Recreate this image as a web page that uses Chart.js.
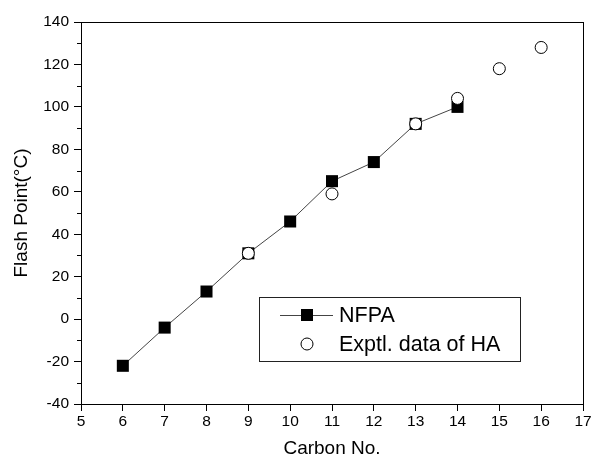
<!DOCTYPE html>
<html>
<head>
<meta charset="utf-8">
<script src="https://cdn.jsdelivr.net/npm/chart.js@4.4.1/dist/chart.umd.min.js"></script>
<style>
  html, body { margin: 0; padding: 0; background: #fff; }
  #wrap { width: 593px; height: 465px; }
</style>
</head>
<body>
<div id="wrap"><canvas id="c" width="593" height="465"></canvas></div>
<script>
// ---- data ----
const nfpaCarbon = [6, 7, 8, 9, 10, 11, 12, 13, 14];
const nfpaFlash  = [-22, -4, 13, 31, 46, 65, 74, 92, 100];
const haCarbon   = [9, 11, 13, 14, 15, 16];
const haFlash    = [31, 59, 92, 104, 118, 128];
const seriesNames = ['NFPA', 'Exptl. data of HA'];
const xTitle = 'Carbon No.';
const yTitle = 'Flash Point(°C)';
const xMin = 5, xMax = 17, xStep = 1;
const yMin = -40, yMax = 140, yStep = 20, yMinorStep = 10;

const FONT = "'Liberation Sans', Arial, sans-serif";

const toPoints = (xs, ys) => xs.map((x, i) => ({ x: x, y: ys[i] }));

// minor ticks + frame + legend box
const decor = {
  id: 'decor',
  afterDraw(chart) {
    const ctx = chart.ctx;
    const a = chart.chartArea;
    const ys = chart.scales.y;
    ctx.save();
    ctx.strokeStyle = '#000';
    ctx.lineWidth = 1;
    // frame
    ctx.strokeRect(Math.round(a.left) + 0.5, Math.round(a.top) + 0.5,
                   Math.round(a.right - a.left), Math.round(a.bottom - a.top));
    // minor y ticks
    for (let v = yMin + yMinorStep; v < yMax; v += yStep) {
      const py = Math.round(ys.getPixelForValue(v)) + 0.5;
      ctx.beginPath();
      ctx.moveTo(a.left, py);
      ctx.lineTo(a.left - 4, py);
      ctx.stroke();
    }
    // legend
    const bx = 259, by = 297, bw = 261, bh = 64;
    ctx.fillStyle = '#fff';
    ctx.fillRect(bx, by, bw, bh);
    ctx.strokeStyle = '#222';
    ctx.strokeRect(bx + 0.5, by + 0.5, bw, bh);
    const ds0 = chart.data.datasets[1]; // NFPA
    const y1 = 315, y2 = 344, mx = 307;
    ctx.strokeStyle = ds0.borderColor;
    ctx.lineWidth = ds0.borderWidth;
    ctx.beginPath();
    ctx.moveTo(280, y1 + 0.5);
    ctx.lineTo(333, y1 + 0.5);
    ctx.stroke();
    ctx.fillStyle = '#000';
    ctx.fillRect(mx - 6, y1 - 6, 12, 12);
    ctx.beginPath();
    ctx.arc(mx, y2, 6, 0, Math.PI * 2);
    ctx.fillStyle = '#fff';
    ctx.fill();
    ctx.strokeStyle = '#000';
    ctx.lineWidth = 1;
    ctx.stroke();
    ctx.fillStyle = '#000';
    ctx.font = '21.5px ' + FONT;
    ctx.textBaseline = 'middle';
    ctx.textAlign = 'left';
    ctx.fillText(seriesNames[0], 339, y1 + 1);
    ctx.fillText(seriesNames[1], 339, y2 + 1);
    ctx.restore();
  }
};

new Chart(document.getElementById('c'), {
  type: 'scatter',
  data: {
    datasets: [
      {
        label: seriesNames[1],
        data: toPoints(haCarbon, haFlash),
        showLine: false,
        pointStyle: 'circle',
        pointRadius: 6,
        pointBackgroundColor: '#fff',
        pointBorderColor: '#000',
        pointBorderWidth: 1,
        order: 0
      },
      {
        label: seriesNames[0],
        data: toPoints(nfpaCarbon, nfpaFlash),
        showLine: true,
        borderColor: '#444',
        borderWidth: 1,
        pointStyle: 'rect',
        pointRadius: 8.5,
        pointBackgroundColor: '#000',
        pointBorderColor: '#000',
        pointBorderWidth: 0,
        order: 1
      }
    ]
  },
  options: {
    responsive: false,
    animation: false,
    events: [],
    layout: { padding: { top: 22, right: 10, left: 0, bottom: 0 } },
    plugins: { legend: { display: false }, tooltip: { enabled: false } },
    scales: {
      x: {
        type: 'linear',
        min: xMin, max: xMax,
        afterFit(s) { s.height = 61; },
        ticks: { stepSize: xStep, color: '#000', font: { family: FONT, size: 15.5 }, padding: 1, maxRotation: 0 },
        grid: { drawOnChartArea: false, drawTicks: true, tickLength: 7, color: '#000' },
        border: { display: true, color: '#000' },
        title: { display: true, text: xTitle, color: '#000', font: { family: FONT, size: 19 }, padding: { top: 4, bottom: 5 } }
      },
      y: {
        type: 'linear',
        min: yMin, max: yMax,
        afterFit(s) { s.width = 81; },
        ticks: { stepSize: yStep, color: '#000', font: { family: FONT, size: 15.5 }, padding: 5 },
        grid: { drawOnChartArea: false, drawTicks: true, tickLength: 7, color: '#000' },
        border: { display: true, color: '#000' },
        title: { display: true, text: yTitle, color: '#000', font: { family: FONT, size: 19 }, padding: { top: 10, bottom: 4 } }
      }
    }
  },
  plugins: [decor]
});
</script>
</body>
</html>
